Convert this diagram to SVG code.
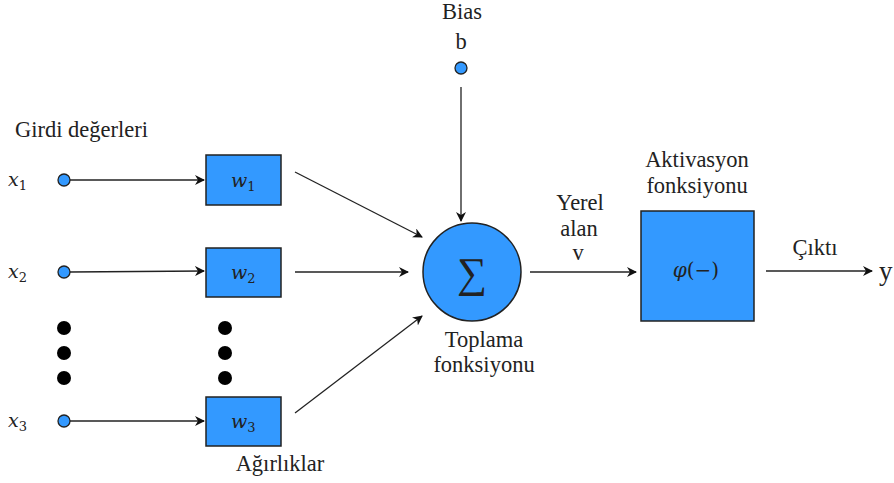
<svg xmlns="http://www.w3.org/2000/svg" width="894" height="483" viewBox="0 0 894 483">
<defs>
<marker id="ah" viewBox="0 0 10 10" refX="9" refY="5" markerWidth="10" markerHeight="10" markerUnits="userSpaceOnUse" orient="auto">
<path d="M0,0 L10,5 L0,10 L3,5 z" fill="#111"/>
</marker>
</defs>
<rect width="894" height="483" fill="#fff"/>
<g id="connectors" stroke="#222" stroke-width="1.3" fill="none" marker-end="url(#ah)">
<line x1="70" y1="180" x2="204" y2="180"/>
<line x1="70" y1="272" x2="204" y2="271"/>
<line x1="70" y1="421" x2="204" y2="421"/>
<line x1="295" y1="172" x2="422" y2="237"/>
<line x1="295" y1="272" x2="408" y2="272"/>
<line x1="295" y1="413" x2="422" y2="316"/>
<line x1="461" y1="87" x2="461" y2="221"/>
<line x1="530" y1="272" x2="636" y2="272"/>
<line x1="766" y1="271" x2="872" y2="271"/>
</g>
<g font-family="'Liberation Serif', 'Times New Roman', serif" font-size="22.5" fill="#222">
<g id="label-girdi"><text x="15" y="137">Girdi değerleri</text></g>
<g id="label-agirliklar"><text x="280" y="471" text-anchor="middle">Ağırlıklar</text></g>
<g id="label-bias"><text x="462" y="19" text-anchor="middle">Bias</text><text x="461" y="49" text-anchor="middle">b</text></g>
<g id="label-toplama"><text x="484" y="347" text-anchor="middle">Toplama</text><text x="484" y="372" text-anchor="middle">fonksiyonu</text></g>
<g id="label-yerel"><text x="580" y="210" text-anchor="middle">Yerel</text><text x="579" y="236" text-anchor="middle">alan</text><text x="578" y="260" text-anchor="middle">v</text></g>
<g id="label-aktivasyon"><text x="697" y="167" text-anchor="middle">Aktivasyon</text><text x="697" y="193" text-anchor="middle">fonksiyonu</text></g>
<g id="label-cikti"><text x="815" y="255" text-anchor="middle">Çıktı</text></g>
<g id="output-y"><text x="879" y="280" font-size="27">y</text></g>
</g>
<g font-family="'DejaVu Serif', 'Liberation Serif', serif" font-style="italic" font-size="19" fill="#222">
<g id="x1"><text x="8" y="186">x<tspan font-size="13" font-style="normal" dy="4">1</tspan></text><circle cx="64" cy="180" r="6" fill="#3399ff" stroke="#222" stroke-width="1.3"/></g>
<g id="x2"><text x="8" y="278">x<tspan font-size="13" font-style="normal" dy="4">2</tspan></text><circle cx="64" cy="272" r="6" fill="#3399ff" stroke="#222" stroke-width="1.3"/></g>
<g id="x3"><text x="8" y="427">x<tspan font-size="13" font-style="normal" dy="4">3</tspan></text><circle cx="64" cy="421" r="6" fill="#3399ff" stroke="#222" stroke-width="1.3"/></g>
<g id="w1"><rect x="206" y="155" width="75" height="50" fill="#3399ff" stroke="#222" stroke-width="1.5"/><text x="231" y="187">w<tspan font-size="13" font-style="normal" dy="4">1</tspan></text></g>
<g id="w2"><rect x="206" y="248" width="75" height="49" fill="#3399ff" stroke="#222" stroke-width="1.5"/><text x="231" y="279">w<tspan font-size="13" font-style="normal" dy="4">2</tspan></text></g>
<g id="w3"><rect x="206" y="397" width="75" height="49" fill="#3399ff" stroke="#222" stroke-width="1.5"/><text x="231" y="428">w<tspan font-size="13" font-style="normal" dy="4">3</tspan></text></g>
</g>
<g id="dots-left" fill="#000"><circle cx="64" cy="328" r="7"/><circle cx="64" cy="353" r="7"/><circle cx="64" cy="378" r="7"/></g>
<g id="dots-right" fill="#000"><circle cx="225" cy="328" r="7"/><circle cx="225" cy="353" r="7"/><circle cx="225" cy="378" r="7"/></g>
<g id="bias"><circle cx="461" cy="68" r="6" fill="#3399ff" stroke="#222" stroke-width="1.3"/></g>
<g id="sum"><circle cx="472" cy="272" r="49" fill="#3399ff" stroke="#222" stroke-width="1.5"/><text x="472" y="287" text-anchor="middle" font-family="'Liberation Serif', serif" font-size="42" fill="#222">∑</text></g>
<g id="activation"><rect x="641" y="211" width="113" height="110" fill="#3399ff" stroke="#222" stroke-width="1.5"/><text x="696" y="277" text-anchor="middle" font-family="'DejaVu Serif', serif" font-size="20" fill="#222"><tspan font-style="italic">φ</tspan>(−)</text></g>
</svg>
